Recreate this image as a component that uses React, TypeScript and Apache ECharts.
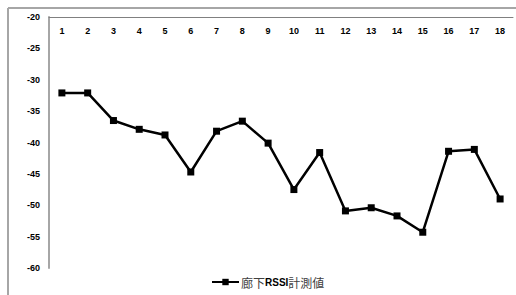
import React, { useEffect, useRef } from "react";
import * as echarts from "echarts";

const categories = ["1","2","3","4","5","6","7","8","9","10","11","12","13","14","15","16","17","18"];
const rssiValues = [-32.1,-32.1,-36.5,-37.9,-38.8,-44.7,-38.2,-36.6,-40.1,-47.5,-41.6,-50.9,-50.4,-51.7,-54.3,-41.4,-41.1,-49.0];
const seriesName = "廊下RSSI計測値";

export default function App() {
  const ref = useRef<HTMLDivElement>(null);
  useEffect(() => {
    if (!ref.current) return;
    const chart = echarts.init(ref.current, null, { renderer: "svg" });
    chart.setOption({
      animation: false,
      backgroundColor: "#ffffff",
      graphic: [
        { type: "line", shape: { x1: 8, y1: 8, x2: 516, y2: 8 }, style: { stroke: "#a6a6a6", lineWidth: 2 } },
        { type: "line", shape: { x1: 8, y1: 8, x2: 8, y2: 295 }, style: { stroke: "#a6a6a6", lineWidth: 2 } },
      ],
      grid: { left: 49, top: 17, width: 464, height: 251, containLabel: false },
      xAxis: {
        type: "category",
        position: "top",
        data: categories,
        axisLine: { show: true, lineStyle: { color: "#808080", width: 1 } },
        axisTick: { show: false },
        axisLabel: {
          inside: true,
          margin: 9,
          color: "#000",
          fontWeight: "bold",
          fontSize: 9,
          fontFamily: "Liberation Sans",
        },
        splitLine: { show: false },
      },
      yAxis: {
        type: "value",
        min: -60,
        max: -20,
        interval: 5,
        axisLine: { show: true, lineStyle: { color: "#a6a6a6", width: 2 } },
        axisTick: { show: false },
        axisLabel: {
          margin: 9,
          color: "#000",
          fontWeight: "bold",
          fontSize: 9,
          fontFamily: "Liberation Sans",
        },
        splitLine: { show: false },
      },
      legend: {
        left: 206,
        top: 271,
        itemWidth: 27,
        itemHeight: 8,
        itemGap: 2,
        data: [seriesName],
        formatter: () => "{a|廊下}{b|RSSI}{a|計測値}",
        textStyle: {
          padding: [0, 0, 0, -3],
          rich: {
            a: { fontSize: 12, color: "#404040", fontFamily: "Noto Sans CJK JP" },
            b: { fontSize: 10, color: "#000", fontWeight: "bold", fontFamily: "Liberation Sans" },
          },
        },
      },
      series: [
        {
          name: seriesName,
          type: "line",
          data: rssiValues,
          symbol: "rect",
          symbolSize: 7,
          itemStyle: { color: "#000" },
          lineStyle: { color: "#000", width: 2.5 },
        },
      ],
    });
    return () => chart.dispose();
  }, []);
  return <div ref={ref} style={{ position: "fixed", left: 0, top: 0, width: 516, height: 295 }} />;
}
